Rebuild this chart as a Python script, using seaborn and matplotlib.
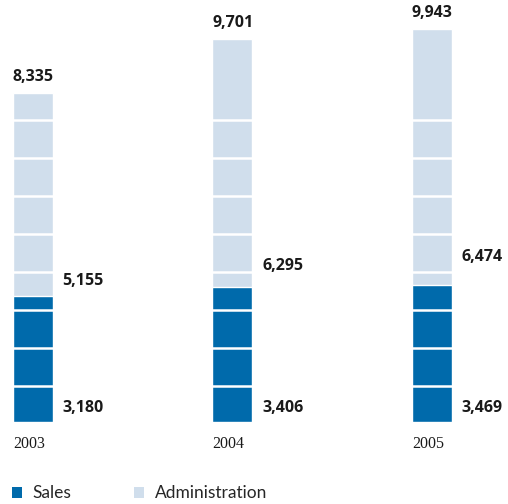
import matplotlib
matplotlib.use("Agg")

import matplotlib.pyplot as plt
import seaborn as sns
import pandas as pd
import numpy as np
from matplotlib.patches import Patch

# Data
years = ["2003", "2004", "2005"]
sales = [3180, 3406, 3469]
administration = [5155, 6295, 6474]
totals = [8335, 9701, 9943]
admin_label_pos = [3570, 3950, 4180]

SALES_COLOR = "#006AAB"
ADMIN_COLOR = "#D0DEEC"

sns.set_theme(style="white")
plt.rcParams["font.family"] = ["Open Sans", "DejaVu Sans"]

df = pd.DataFrame({"year": years, "sales": sales, "total": totals})

fig = plt.figure(figsize=(5.08, 5.04), dpi=100)
ax = fig.add_axes([0, 1 - 422 / 504, 1, 422 / 504])

sns.barplot(data=df, x="year", y="total", color=ADMIN_COLOR, width=0.2,
            saturation=1, ax=ax, zorder=1)
sns.barplot(data=df, x="year", y="sales", color=SALES_COLOR, width=0.2,
            saturation=1, ax=ax, zorder=2)

# white separators across the bars
for level in np.arange(8) * 962 + 912:
    ax.axhline(level, color="white", linewidth=1.8, zorder=3)

ax.set_xlim(-0.164, 2.382)
ax.set_ylim(0, 10684)
ax.set_xlabel("")
ax.set_ylabel("")
ax.set_xticks([])
ax.set_yticks([])
for spine in ax.spines.values():
    spine.set_visible(False)

for i, year in enumerate(years):
    left = i - 0.1
    right = i + 0.1
    ax.text(left, totals[i] + 200, f"{totals[i]:,}", ha="left", va="bottom",
            fontsize=11.5, fontweight="bold", color="#1a1a1a")
    ax.text(right + 0.05, admin_label_pos[i], f"{administration[i]:,}", ha="left",
            va="center", fontsize=11.5, fontweight="bold", color="#1a1a1a")
    ax.text(right + 0.05, 350, f"{sales[i]:,}", ha="left", va="center",
            fontsize=11.5, fontweight="bold", color="#1a1a1a")
    ax.text(left, -560, year, ha="left", va="center", fontsize=11.5,
            family=["Liberation Serif"], color="#1a1a1a", clip_on=False)

handles = [Patch(facecolor=SALES_COLOR, edgecolor="none"),
           Patch(facecolor=ADMIN_COLOR, edgecolor="none")]
fig.legend(handles, ["Sales", "Administration"], loc="lower left",
           bbox_to_anchor=(-0.008, -0.026), ncol=2, frameon=False,
           handlelength=0.6, handleheight=0.6, handletextpad=0.6,
           columnspacing=3.6, prop={"family": "Lato", "size": 12.5})

fig.savefig("out.png", dpi=100)
plt.close(fig)
